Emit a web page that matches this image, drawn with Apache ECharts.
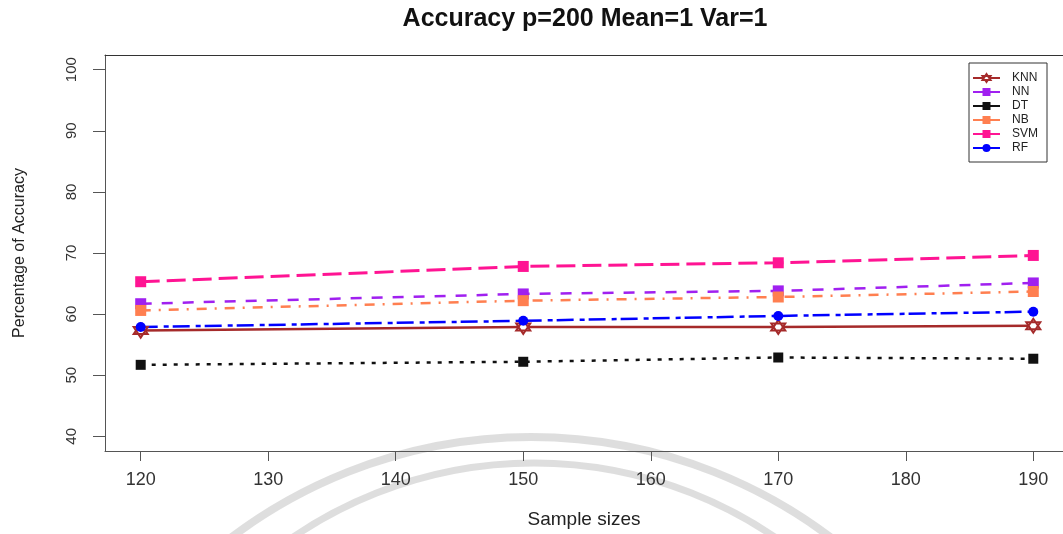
<!DOCTYPE html>
<html>
<head>
<meta charset="utf-8">
<script src="https://cdn.jsdelivr.net/npm/echarts@6/dist/echarts.min.js"></script>
<style>
    html, body { margin: 0; padding: 0; background: #fff; }
    #chart { width: 1063px; height: 534px; }
</style>
</head>
<body>
<div id="chart"></div>
<script>
// sample sizes on the x axis
const sampleSizes = [120, 150, 170, 190]

// accuracy (%) per method
const knn = [57.3, 57.9, 57.9, 58.1]
const nn  = [61.7, 63.3, 63.8, 65.1]
const dt  = [51.7, 52.2, 52.9, 52.7]
const nb  = [60.6, 62.2, 62.8, 63.7]
const svm = [65.3, 67.8, 68.4, 69.6]
const rf  = [57.9, 58.9, 59.7, 60.4]

const xTicks = [120, 130, 140, 150, 160, 170, 180, 190]
const yTicks = [40, 50, 60, 70, 80, 90, 100]

const FONT = 'Liberation Sans, Arial, sans-serif'

// hexagram (two triangles) for KNN, like R pch 11
const hexagram = 'path://M0,-10L8.66,5L-8.66,5Z M0,10L-8.66,-5L8.66,-5Z'

function pairs(vals) {
    return sampleSizes.map((x, i) => [x, vals[i]])
}

function lineSeries(name, vals, color, dash, symbol, size, width, fill) {
    return {
        name,
        type: 'line',
        xAxisIndex: 0,
        data: pairs(vals),
        symbol,
        symbolSize: size,
        showSymbol: true,
        lineStyle: { color, width, type: dash },
        itemStyle: fill
            ? { color: fill, borderColor: color, borderWidth: 2 }
            : { color },
        emphasis: { disabled: true },
        animation: false,
    }
}

const chart = echarts.init(document.getElementById('chart'))

chart.setOption({
    backgroundColor: '#fff',
    title: {
        text: 'Accuracy p=200 Mean=1 Var=1',
        left: 580,
        top: 2,
        textAlign: 'center',
        textStyle: { fontFamily: FONT, fontSize: 25, fontWeight: 'bold', color: '#111' },
    },
    // faint watermark rings from the scanned page
    graphic: [
        { type: 'circle', z: 0, silent: true, shape: { cx: 531, cy: 934, r: 497 },
          style: { fill: 'none', stroke: 'rgba(200,200,200,0.6)', lineWidth: 8 } },
        { type: 'circle', z: 0, silent: true, shape: { cx: 534, cy: 891, r: 428 },
          style: { fill: 'none', stroke: 'rgba(200,200,200,0.6)', lineWidth: 7 } },
    ],
    legend: {
        orient: 'vertical',
        left: 969,
        top: 63,
        padding: [9, 9, 8, 3],
        itemWidth: 27,
        itemHeight: 10,
        itemGap: 2,
        borderColor: '#333',
        borderWidth: 1,
        lineStyle: { type: 'solid' },
        textStyle: { fontFamily: FONT, fontSize: 12, lineHeight: 12, color: '#222', padding: [0, 0, 0, 7] },
        data: ['KNN', 'NN', 'DT', 'NB', 'SVM', 'RF'],
    },
    grid: {
        left: 105, top: 55, right: 0, bottom: 77,
        show: false,
        containLabel: false,
    },
    xAxis: [
        {
            type: 'value',
            min: 117.2,
            max: 192.33,
            name: 'Sample sizes',
            nameLocation: 'middle',
            nameGap: 59,
            nameTextStyle: { fontFamily: FONT, fontSize: 19, color: '#222' },
            axisLine: { show: true, lineStyle: { color: '#555', width: 1 } },
            axisTick: { show: true, inside: false, length: 10, customValues: xTicks, lineStyle: { color: '#555' } },
            axisLabel: { customValues: xTicks, margin: 20, fontFamily: FONT, fontSize: 18, color: '#333' },
            splitLine: { show: false },
        },
        {
            // top edge of the plot box
            type: 'value',
            position: 'top',
            min: 117.2,
            max: 192.33,
            axisLine: { show: true, lineStyle: { color: '#333', width: 1 } },
            axisTick: { show: false },
            axisLabel: { show: false },
            splitLine: { show: false },
        },
    ],
    yAxis: {
        type: 'value',
        min: 37.6,
        max: 102.4,
        name: 'Percentage of Accuracy',
        nameLocation: 'middle',
        nameGap: 77,
        nameRotate: 90,
        nameTextStyle: { fontFamily: FONT, fontSize: 16, color: '#222' },
        axisLine: { show: true, lineStyle: { color: '#555', width: 1 } },
        axisTick: { show: true, inside: false, length: 12, customValues: yTicks, lineStyle: { color: '#555' } },
        axisLabel: { customValues: yTicks, rotate: 90, margin: 26, fontFamily: FONT, fontSize: 15, color: '#333' },
        splitLine: { show: false },
    },
    series: [
        lineSeries('KNN', knn, '#A52A2A', 'solid', hexagram, [14, 14], 2.5, '#fff'),
        lineSeries('NN',  nn,  '#A020F0', [11, 10], 'rect', 11, 2.5),
        lineSeries('DT',  dt,  '#111111', [4, 7], 'rect', 10, 2.5),
        lineSeries('NB',  nb,  '#FF7F50', [10, 8, 2, 8], 'rect', 11, 2.5),
        lineSeries('SVM', svm, '#FF1493', [19, 7], 'rect', 11, 3),
        lineSeries('RF',  rf,  '#0000FF', [17, 6, 5, 4], 'circle', 10, 2.5),
    ],
})
</script>
</body>
</html>
